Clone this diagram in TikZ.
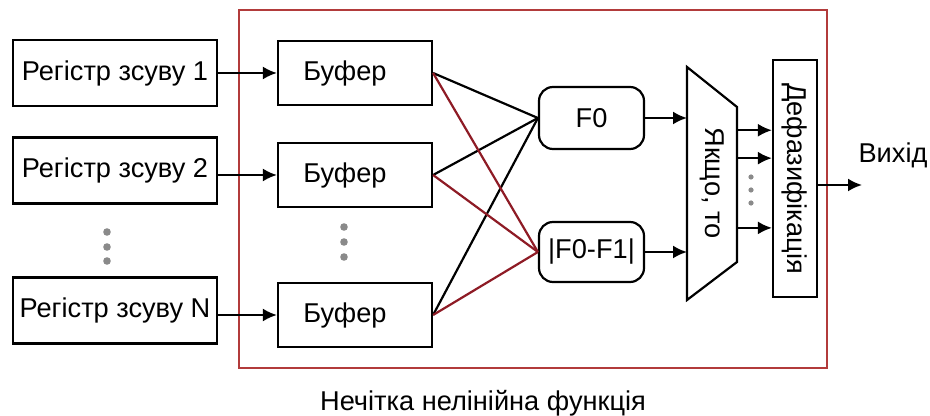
\documentclass[tikz,border=0pt]{standalone}
\usepackage{fontspec}
\setmainfont{Liberation Sans}
\usepackage{tikz}
\usetikzlibrary{arrows.meta,positioning,calc}
\definecolor{frm}{HTML}{B23B3B}
\definecolor{wire}{HTML}{8E1B25}
\definecolor{dotc}{HTML}{8A8A8A}
\tikzset{
  >={Latex[length=7pt,width=6.5pt]},
  box/.style={draw=black,line width=1.1pt,inner sep=2pt,align=center,fill=white},
  rbox/.style={box,rounded corners=7pt},
  arr/.style={->,draw=black,line width=1.1pt},
  ln/.style={draw=black,line width=1.1pt},
  rln/.style={draw=wire,line width=1.1pt},
}

\begin{document}
\begin{tikzpicture}[x=0.5pt,y=-0.5pt,every node/.style={font=\fontsize{13.6}{16}\selectfont},
  rg/.style={box,minimum width=102pt,minimum height=33pt},
  bf/.style={box,minimum width=77pt,minimum height=32pt}]
\useasboundingbox (0,0) rectangle (930,416);
% frame of the nonlinear block
\draw[frm,line width=1.1pt] (239,10) rectangle (827,368);
\node (cap) at (483,403) {Нечітка нелінійна функція};
% shift registers and buffers
\node[rg] (reg1) at (115,73) {Регістр зсуву 1};
\node[rg] (reg2) at (115,170.5) {Регістр зсуву 2};
\node[rg] (regN) at (115,310.5) {Регістр зсуву N};
\node[bf] (buf1) at (355,73) {\hspace*{-10pt}Буфер};
\node[bf] (buf2) at (355,175) {\hspace*{-10pt}Буфер};
\node[bf] (bufN) at (355,315) {\hspace*{-10pt}Буфер};
\draw[arr] (reg1.east |- buf1.west) -- (buf1.west);
\draw[arr] (reg2.east |- buf2.west) -- (buf2.west);
\draw[arr] (regN.east |- bufN.west) -- (bufN.west);
\foreach \y in {232,247,261} \fill[dotc] (107,\y) circle (1.9pt);
\foreach \y in {227,242,257} \fill[dotc] (344,\y) circle (1.9pt);
% F0 and |F0-F1|
\node[rbox,minimum width=52.5pt,minimum height=31pt] (fz) at (591.5,118) {F0};
\node[rbox,minimum width=52.5pt,minimum height=30pt] (fd) at (591.5,252) {|F0-F1|};
\foreach \b in {buf1,buf2,bufN} \draw[ln] (\b.east) -- (fz.west);
\foreach \b in {buf1,buf2,bufN} \draw[rln] (\b.east) -- (fd.west);
% rule block
\coordinate (tl) at (687,67);
\coordinate (tr) at (737,107);
\coordinate (br) at (737,262);
\coordinate (bl) at (687,300);
\draw[ln,fill=white] (tl) -- (tr) -- (br) -- (bl) -- cycle;
\node[rotate=-90] (ift) at (712,183) {Якщо, то};
\draw[arr] (fz.east) -- (fz.east -| tl);
\draw[arr] (fd.east) -- (fd.east -| tl);
% defuzzification
\node[box,minimum width=22pt,minimum height=118.5pt] (dfz) at (795,178.5) {};
\node[rotate=-90] (dfzt) at (dfz) {Дефазифікація};
\foreach \t in {0.15,0.33,0.78} {
  \path ($(tr)!\t!(br)$) coordinate (o);
  \draw[arr] (o) -- (o -| dfz.west);
}
\foreach \y in {177,190,203} \fill[dotc] (751,\y) circle (1.3pt);
\coordinate (out) at (862,185);
\draw[arr] (dfz.east |- out) -- (out);
\node (vyh) at (893,155) {Вихід};
\end{tikzpicture}
\end{document}
